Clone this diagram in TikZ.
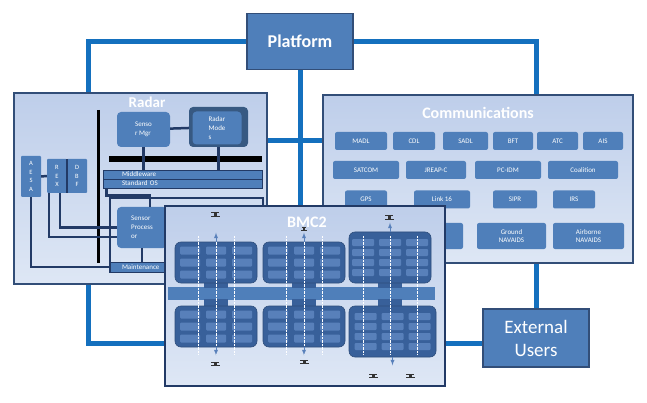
\documentclass[tikz,border=0pt]{standalone}
\usepackage{fontspec}
\setmainfont{Carlito}
\usepackage{xcolor}
\usepackage{tikz}
\definecolor{linkblue}{RGB}{20,112,190}
\definecolor{unitblue}{RGB}{79,127,186}
\definecolor{boxedge}{RGB}{50,78,120}
\definecolor{paneltop}{RGB}{190,206,234}
\definecolor{panelbottom}{RGB}{222,231,245}
\definecolor{navyline}{RGB}{34,58,102}
\definecolor{clusterblue}{RGB}{56,96,154}
\definecolor{cellblue}{RGB}{88,128,186}
\usetikzlibrary{positioning,calc,backgrounds}

\begin{document}
\begin{tikzpicture}[x=1pt, y=-1pt,
    link/.style={draw=linkblue, line width=5pt},
    panel/.style={rectangle, draw=boxedge, line width=1.8pt, top color=paneltop, bottom color=panelbottom, inner sep=0pt},
    mainbox/.style={rectangle, draw=boxedge, line width=1.5pt, fill=unitblue, text=white, align=center},
    paneltitle/.style={text=white, font=\bfseries\fontsize{15}{18}\selectfont},
    unit/.style={rectangle, rounded corners=2pt, fill=unitblue, text=white, font=\fontsize{7}{8.5}\selectfont, align=center, inner sep=1pt, minimum height=18pt},
    radarunit/.style={rectangle, rounded corners=4pt, fill=unitblue, text=white, font=\fontsize{7}{9}\selectfont, align=left, inner sep=1pt},
    letterbox/.style={rectangle, rounded corners=1pt, fill=unitblue, text=white, font=\fontsize{6.5}{8.5}\selectfont, align=center, inner sep=0pt, minimum width=20pt},
    osbar/.style={rectangle, draw=navyline, line width=0.8pt, fill=unitblue, text=white, font=\fontsize{7}{7}\selectfont, text width=121pt, align=left, minimum width=159pt, minimum height=9pt, inner sep=0pt},
    wire/.style={draw=navyline, line width=2.5pt},
    cluster/.style={rectangle, rounded corners=6pt, fill=clusterblue, draw=clusterblue!80!black, line width=0.6pt},
    uparrow/.style={-latex, draw=cellblue, line width=0.9pt},
    pics/tinymark/.style={code={
        \fill[black!80] (-4,-2.5) rectangle (4,-1.6);
        \fill[black!80] (-1.5,-1.6) rectangle (1.5,1);
        \fill[black!80] (-4.5,1) rectangle (4.5,2);
    }}
]
    \useasboundingbox (0,0) rectangle (647,403);

    \node[mainbox, minimum width=106pt, minimum height=56pt, font=\bfseries\fontsize{18}{20}\selectfont] (platform) at (300,41.5) {Platform};
    \node[mainbox, minimum width=106pt, minimum height=58pt, font=\fontsize{19}{23}\selectfont] (users) at (536,338) {External\\Users};

    % Radar panel
    \node[panel, minimum width=253pt, minimum height=191pt] (radar) at (140.5,188.5) {};
    \node[paneltitle] (radartitle) at (147,102) {Radar};
    \draw[black, line width=3pt] (98,110) -- (98,263);
    \fill[black] (109,156) rectangle (262,162);
    \node[radarunit, minimum width=53pt, minimum height=35pt] (sensormgr) at (143.5,129.5) {Senso\\r Mgr};
    \node[radarunit, fill=unitblue!70!black, minimum width=59pt, minimum height=40pt] (radarmodes) at (218.5,127) {};
    \node[radarunit, minimum width=49pt, minimum height=33pt] (modesinner) at (217,128) {Radar\\Mode\\s};
    \draw[wire] (sensormgr) -- (radarmodes);
    \node[osbar] (middleware) at (182.5,174.5) {Middleware};
    \node[osbar] (standardos) at (182.5,183.5) {Standard OS};
    \draw[wire] (sensormgr.south) -- (sensormgr.south |- middleware.north);
    \draw[wire] (radarmodes.south) -- (radarmodes.south |- middleware.north);
    \node[letterbox, minimum height=41pt] (aesa) at (31,176.5) {A\\E\\S\\A};
    \node[letterbox, minimum height=34pt] (rex) at (57,176) {R\\E\\X};
    \node[letterbox, minimum height=34pt] (dbf) at (77,176) {D\\B\\F};
    \draw[navyline, line width=1.5pt] (rex.north east) -- (rex.south east);
    \draw[wire] (aesa) -- (rex);
    \draw[navyline, line width=1.2pt] (110,198) rectangle (263,272);
    \node[radarunit, minimum width=50pt, minimum height=41pt] (sensorproc) at (142,227.5) {Sensor\\Process\\or};
    \node[osbar, text width=129pt, minimum width=153pt, minimum height=10pt] (maint) at (186.5,267) {Maintenance};
    \draw[wire] ([xshift=4pt]standardos.south west) -- ++(0,7) -| ([xshift=8pt]sensorproc.north);
    \draw[wire] (sensorproc.south) -- (sensorproc.south |- maint.north);
    \draw[wire] (aesa.south) |- (maint.west);
    \draw[wire] ([xshift=-8pt]rex.south) |- ([yshift=-9.5pt]sensorproc.west);
    \draw[wire] ([xshift=3pt]rex.south) |- (sensorproc.west);

    % Communications panel
    \node[panel, minimum width=310pt, minimum height=168pt] (comm) at (478,179) {};
    \node[paneltitle, font=\bfseries\fontsize{16}{18}\selectfont] (commtitle) at (478,113) {Communications};
    \node[unit, minimum width=52pt] (madl) at (361,141) {MADL};
    \node[unit, minimum width=42pt] (cdl) at (414,141) {CDL};
    \node[unit, minimum width=45pt] (sadl) at (465.5,141) {SADL};
    \node[unit, minimum width=40pt] (bft) at (513,141) {BFT};
    \node[unit, minimum width=41pt] (atc) at (557.5,141) {ATC};
    \node[unit, minimum width=40pt] (ais) at (603,141) {AIS};
    \node[unit, minimum width=66pt] (satcom) at (366,170) {SATCOM};
    \node[unit, minimum width=60pt] (jreapc) at (436,170) {JREAP-C};
    \node[unit, minimum width=66pt] (pcidm) at (508,170) {PC-IDM};
    \node[unit, minimum width=70pt] (coalition) at (583,170) {Coalition};
    \node[unit, minimum width=42pt] (gps) at (366,199.5) {GPS};
    \node[unit, minimum width=56pt] (link16) at (442,199.5) {Link 16};
    \node[unit, minimum width=44pt] (sipr) at (515,199.5) {SIPR};
    \node[unit, minimum width=42pt] (irs) at (574,199.5) {IRS};
    \node[unit, minimum width=62pt, minimum height=26pt] (navspare) at (432,236) {};
    \node[unit, minimum width=69pt, minimum height=26pt] (groundnav) at (511.5,236) {Ground\\NAVAIDS};
    \node[unit, minimum width=71pt, minimum height=26pt] (airnav) at (588.5,236) {Airborne\\NAVAIDS};

    % BMC2 panel
    \node[panel, draw=navyline, minimum width=280pt, minimum height=180pt] (bmc) at (305,296) {};
    \node[paneltitle, font=\bfseries\fontsize{16}{18}\selectfont] (bmctitle) at (307,222) {BMC2};
    \node[rectangle, fill=unitblue, minimum width=267pt, minimum height=13pt, inner sep=0pt] (bus) at (301.5,293.5) {};
    \foreach \x in {216,304,390} {
        \fill[clusterblue] (\x-12,282) rectangle (\x+12,288);
        \fill[clusterblue] (\x-12,299) rectangle (\x+12,307);
    }
    \node[cluster, minimum width=82pt, minimum height=41pt] (ctl) at (216,262.5) {};
    \node[cluster, minimum width=82pt, minimum height=41pt] (ctm) at (304,262.5) {};
    \node[cluster, minimum width=82pt, minimum height=51pt] (ctr) at (390,257.5) {};
    \node[cluster, minimum width=82pt, minimum height=41pt] (cbl) at (216,326.5) {};
    \node[cluster, minimum width=82pt, minimum height=41pt] (cbm) at (304,326.5) {};
    \node[cluster, minimum width=87pt, minimum height=51pt] (cbr) at (392.5,331.5) {};
    \foreach \cx/\cy in {216/262.5, 304/262.5, 216/326.5, 304/326.5}
        \foreach \dx in {-26,0,26}
            \foreach \dy in {-12,0,12}
                \fill[cellblue, rounded corners=1pt] (\cx+\dx-10,\cy+\dy-4) rectangle (\cx+\dx+10,\cy+\dy+4);
    \foreach \cx/\cy in {390/257.5, 392.5/331.5}
        \foreach \dx in {-27,0,27}
            \foreach \dy in {-15,-5,5,15}
                \fill[cellblue, rounded corners=1pt] (\cx+\dx-11,\cy+\dy-3.5) rectangle (\cx+\dx+11,\cy+\dy+3.5);
    \foreach \x in {198,216,234,286,304,322,363,390,417}
        \draw[white, densely dotted, line width=0.4pt] (\x,236) -- (\x,354);
    \draw[uparrow] (ctl.north) -- ++(0,-9);
    \draw[uparrow] (ctm.north) -- ++(0,-9);
    \draw[uparrow] (ctr.north) -- ++(0,-9);
    \draw[uparrow] (cbl.south) -- ++(0,8);
    \draw[uparrow] (cbm.south) -- ++(0,8);
    \draw[uparrow] (cbr.south) -- ++(0,8);
    \pic at (215,215) {tinymark};
    \pic[scale=0.6] at (304,229) {tinymark};
    \pic at (389,218) {tinymark};
    \pic at (215,364) {tinymark};
    \pic at (304,362) {tinymark};
    \pic at (373,376) {tinymark};
    \pic at (410,376) {tinymark};

    % blue links behind the panels
    \begin{pgfonlayer}{background}
        \fill[white] (0,0) rectangle (647,403);
        \coordinate (nw) at (88,41.5);
        \coordinate (ne) at (536,41.5);
        \coordinate (sw) at (88,343);
        \coordinate (hub) at (300,141);
        \draw[link] (platform.west) -- (nw) -- (sw) -- (sw -| bmc.west);
        \draw[link] (platform.east) -- (ne) -- (users.north);
        \draw[link] (platform.south) -- (platform.south |- bmc.north);
        \draw[link] (radar.east |- hub) -- (comm.west |- hub);
        \draw[link] (bmc.east |- sw) -- (users.west |- sw);
    \end{pgfonlayer}
\end{tikzpicture}
\end{document}
